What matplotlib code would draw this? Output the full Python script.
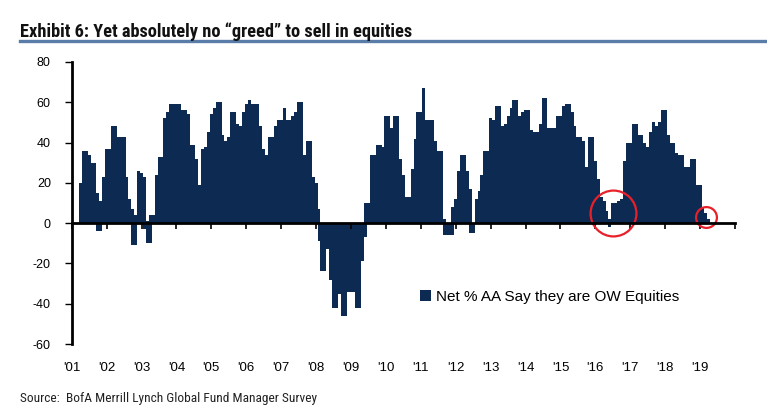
import numpy as np
import matplotlib.pyplot as plt
from matplotlib.lines import Line2D
from matplotlib import font_manager

plt.rcParams['axes.unicode_minus'] = False

# Net % of asset allocators overweight equities, monthly
first_month = 3   # months after Jan 2001 for the first bar
net_ow = [20, 36, 36, 34, 30, 30, 15, 11, 23, 37,
          37, 48, 48, 43, 43, 43, 23, 12, 7, 4,
          26, 25, 23, 1, 4, 4, 24, 33, 33, 52,
          55, 59, 59, 59, 59, 56, 56, 54, 39, 39,
          32, 19, 37, 38, 45, 54, 57, 60, 60, 44,
          41, 43, 55, 55, 49, 48, 55, 59, 61, 59,
          59, 59, 48, 37, 34, 43, 43, 48, 51, 51,
          57, 51, 51, 53, 55, 60, 60, 34, 41, 41,
          23, 20, 7, -24, -24, -13, -28, -42, -42, -35,
          -46, -46, -34, -34, -34, -42, -42, -19, 10, 10,
          34, 34, 39, 39, 38, 53, 53, 47, 53, 53,
          32, 24, 13, 13, 27, 42, 55, 55, 67, 51,
          51, 51, 41, 36, 36, 2, -6, -6, 8, 12,
          26, 34, 34, 26, 17, -5, 12, 16, 24, 36,
          36, 52, 51, 58, 58, 48, 49, 53, 57, 61,
          61, 53, 55, 56, 56, 46, 45, 45, 49, 62,
          62, 47, 47, 47, 53, 53, 58, 59, 59, 55,
          48, 43, 43, 41, 28, 43, 43, 31, 22, 13,
          11, 6, 2, 10, 10, 11, 12, 31, 40, 40,
          49, 49, 44, 44, 40, 38, 45, 50, 48, 50,
          56, 56, 44, 40, 40, 35, 34, 34, 28, 28,
          32, 32, 19, 19, 8, 5, 2]

# months with a second reading drawn on the same slot
extra_month = [9, 10, 21, 22, 25, 26, 27, 85, 101, 128, 131, 137, 185]
extra_value = [-4, -4, -11, -11, -3, -10, -10, -9, -7, -6, -6, -5, -2]

year_labels = ["'%02d" % (y % 100) for y in range(2001, 2020)]

# circled readings (month index, value, circle diameter in pt)
circle_month = [186, 218]
circle_value = [5, 3]
circle_size = [33, 15]

navy = '#0c2a52'

# pick a narrow family for the title and source lines
installed = set(f.name for f in font_manager.fontManager.ttflist)
narrow = [f for f in ['Liberation Sans Narrow', 'DejaVu Sans Condensed', 'Roboto Condensed']
          if f in installed] + ['DejaVu Sans']

months = first_month + np.arange(len(net_ow))
x = 2001 + months / 12
x_extra = 2001 + np.array(extra_month) / 12

fig = plt.figure(figsize=(7.67, 4.11), dpi=100)
ax = fig.add_axes([71.7 / 767, 1 - 344 / 411, (735 - 71.7) / 767, (344 - 62) / 411])

bars = ax.bar(x, net_ow, width=1 / 12, color=navy, linewidth=0, antialiased=False,
              label='Net % AA Say they are OW Equities')
ax.bar(x_extra, extra_value, width=1 / 12, color=navy, linewidth=0, antialiased=False)

ax.set_xlim(2001, 2020)
ax.set_ylim(-60, 80)
for s in ['top', 'right']:
    ax.spines[s].set_visible(False)
ax.spines['bottom'].set_position(('data', 0))
ax.spines['bottom'].set_linewidth(2)
ax.spines['left'].set_linewidth(2)

ax.set_xticks(range(2001, 2021))
ax.tick_params(axis='x', direction='out', length=4, width=1.2, labelbottom=False)
ax.set_yticks(range(-60, 81, 20))
ax.tick_params(axis='y', direction='out', length=5, width=1, pad=10, labelsize=9)
for lab in ax.get_yticklabels():
    lab.set_family('Liberation Sans')

sec = ax.secondary_xaxis('bottom')
sec.set_xticks(range(2001, 2020), labels=year_labels)
sec.tick_params(length=0, pad=13, labelsize=9.5)
sec.spines['bottom'].set_visible(False)
for lab in sec.get_xticklabels():
    lab.set_family('Liberation Sans')

for m, v, s in zip(circle_month, circle_value, circle_size):
    ax.plot([2001 + m / 12], [v], linestyle='none', marker='o',
            markerfacecolor='none', markeredgecolor='#e8202a', markeredgewidth=1.6,
            markersize=s, clip_on=False)

ax.legend(handles=[bars], loc='center left', bbox_to_anchor=(0.505, 0.167), frameon=False,
          handlelength=0.7, handleheight=0.7, handletextpad=0.3,
          prop={'family': 'Liberation Sans', 'size': 11})

fig.text(20 / 767, 1 - 37 / 411, 'Exhibit 6: Yet absolutely no \u201cgreed\u201d to sell in equities',
         fontsize=13.2, fontweight='bold', family=narrow,
         va='baseline', color='#111111')
fig.add_artist(Line2D([20 / 767, 1], [1 - 41.5 / 411] * 2, color='#5a7ca8', lw=2.4))
fig.text(20 / 767, 1 - 402 / 411, 'Source:  BofA Merrill Lynch Global Fund Manager Survey',
         fontsize=9.6, family=narrow, va='baseline', color='#222222')

fig.savefig('out.png', dpi=100)
